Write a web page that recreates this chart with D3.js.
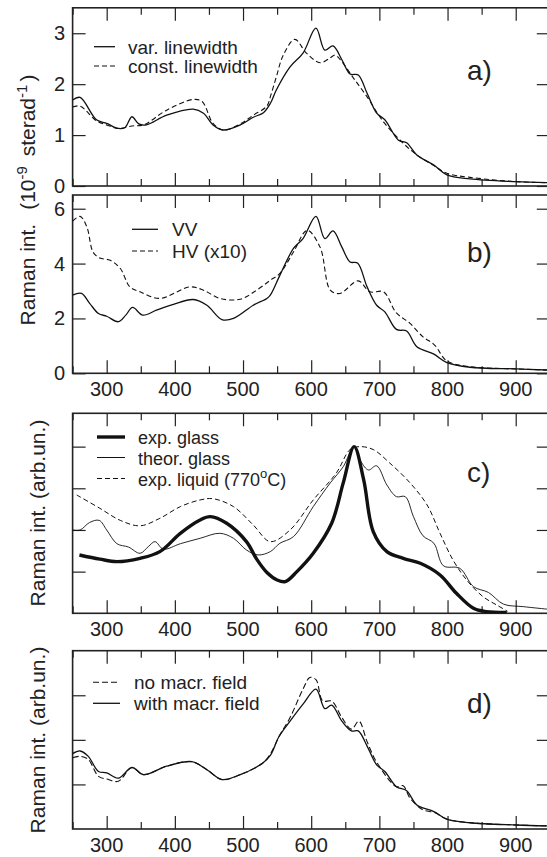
<!DOCTYPE html>
<html>
<head>
<meta charset="utf-8">
<script src="https://d3js.org/d3.v7.min.js"></script>
<style>
  body { margin: 0; background: #fff; }
  text { font-family: "Liberation Sans", Arial, Helvetica, sans-serif; fill: #222; }
</style>
</head>
<body>
<svg id="chart" width="547" height="857"></svg>
<script>

// ---- data (x = wavenumber cm^-1) ----

// panel a)
var aVarX = [250, 261, 285, 300, 317, 327, 337, 347, 358, 388, 427, 442, 456, 471, 496, 515, 530, 540, 549, 569, 588, 607, 620, 632, 645, 657, 669, 682, 696, 708, 728, 740, 755, 780, 799, 833, 901, 946];
var aVarY = [1.69, 1.74, 1.30, 1.23, 1.13, 1.15, 1.36, 1.22, 1.20, 1.39, 1.51, 1.43, 1.20, 1.10, 1.20, 1.35, 1.44, 1.62, 1.89, 2.34, 2.61, 3.10, 2.67, 2.75, 2.48, 2.20, 2.18, 1.82, 1.43, 1.30, 0.90, 0.85, 0.61, 0.41, 0.22, 0.14, 0.085, 0.065];
var aConstX = [250, 261, 285, 300, 317, 337, 354, 388, 427, 440, 456, 471, 496, 515, 535, 540, 549, 559, 576, 593, 613, 628, 635, 645, 662, 682, 706, 735, 755, 780, 799, 833, 901, 946];
var aConstY = [1.55, 1.57, 1.28, 1.20, 1.13, 1.18, 1.20, 1.49, 1.70, 1.66, 1.23, 1.10, 1.22, 1.39, 1.57, 1.75, 2.15, 2.57, 2.88, 2.61, 2.42, 2.52, 2.57, 2.44, 2.12, 1.75, 1.26, 0.84, 0.61, 0.40, 0.25, 0.17, 0.085, 0.065];

// panel b)
var bVVX = [250, 263, 275, 288, 300, 317, 328, 338, 353, 373, 398, 427, 447, 469, 486, 515, 535, 540, 554, 574, 588, 607, 620, 632, 645, 657, 668, 682, 696, 708, 725, 740, 755, 780, 799, 833, 901, 946];
var bVVY = [2.85, 2.91, 2.55, 2.18, 2.08, 1.88, 2.12, 2.40, 2.12, 2.30, 2.51, 2.69, 2.48, 1.96, 2.00, 2.48, 2.73, 2.85, 3.57, 4.55, 4.91, 5.72, 4.91, 5.19, 4.60, 4.06, 4.02, 3.15, 2.48, 2.24, 1.60, 1.54, 0.97, 0.70, 0.39, 0.22, 0.16, 0.12];
var bHVX = [250, 261, 271, 280, 290, 305, 320, 334, 349, 378, 422, 442, 466, 496, 520, 540, 554, 574, 594, 613, 628, 642, 669, 686, 706, 725, 745, 764, 781, 799, 833, 901, 946];
var bHVY = [5.55, 5.72, 5.33, 4.42, 4.20, 4.12, 3.82, 3.15, 2.97, 2.73, 3.15, 3.03, 2.73, 2.70, 3.03, 3.39, 3.64, 4.42, 5.21, 4.60, 3.03, 2.91, 3.37, 2.97, 2.97, 2.20, 1.82, 1.33, 1.03, 0.45, 0.24, 0.16, 0.12];

// panel c)
var cExpX = [260, 290, 315, 349, 378, 408, 437, 452, 476, 505, 520, 535, 550, 562, 579, 603, 630, 647, 663, 677, 691, 711, 735, 760, 789, 813, 838, 857, 887];
var cExpY = [1.40, 1.30, 1.24, 1.32, 1.48, 1.92, 2.24, 2.32, 2.16, 1.72, 1.30, 0.98, 0.80, 0.76, 1.00, 1.44, 2.16, 3.13, 4.00, 3.20, 1.96, 1.48, 1.32, 1.20, 0.92, 0.48, 0.12, 0.04, 0.02];
var cTheorX = [250, 261, 275, 289, 300, 315, 332, 349, 361, 371, 383, 408, 437, 466, 486, 505, 522, 540, 554, 574, 603, 628, 647, 663, 673, 684, 696, 711, 725, 738, 750, 764, 780, 794, 818, 838, 860, 882, 911, 946];
var cTheorY = [2.00, 2.00, 2.18, 2.23, 2.00, 1.67, 1.59, 1.44, 1.60, 1.72, 1.54, 1.67, 1.80, 1.92, 1.80, 1.52, 1.40, 1.48, 1.68, 1.84, 2.56, 3.13, 3.52, 4.00, 3.64, 3.44, 3.54, 3.08, 2.80, 2.80, 2.32, 1.86, 1.68, 1.14, 1.08, 0.64, 0.50, 0.22, 0.16, 0.10];
var cLiqX = [256, 290, 320, 349, 378, 408, 437, 456, 486, 515, 540, 569, 603, 637, 657, 671, 691, 715, 745, 770, 789, 808, 828, 852, 872, 888];
var cLiqY = [2.84, 2.52, 2.23, 2.10, 2.28, 2.56, 2.72, 2.75, 2.56, 2.12, 1.72, 2.00, 2.72, 3.37, 3.93, 4.00, 3.93, 3.61, 3.13, 2.60, 1.92, 1.28, 0.80, 0.40, 0.20, 0.05];

// panel d)
var dWithX = [250, 261, 273, 288, 300, 317, 337, 354, 388, 425, 447, 469, 496, 529, 540, 553, 569, 588, 607, 620, 630, 645, 659, 669, 682, 696, 708, 725, 740, 755, 780, 799, 833, 901, 946];
var dWithY = [1.69, 1.75, 1.63, 1.29, 1.26, 1.14, 1.38, 1.22, 1.41, 1.51, 1.33, 1.11, 1.22, 1.48, 1.65, 2.08, 2.42, 2.80, 3.14, 2.70, 2.78, 2.42, 2.20, 2.20, 1.86, 1.44, 1.29, 0.95, 0.86, 0.54, 0.39, 0.22, 0.14, 0.09, 0.07];
var dNoX = [250, 261, 273, 288, 300, 317, 337, 354, 388, 425, 447, 469, 496, 529, 540, 553, 569, 588, 598, 607, 617, 630, 645, 659, 670, 682, 696, 725, 735, 745, 764, 781, 799, 833, 901, 946];
var dNoY = [1.60, 1.63, 1.56, 1.18, 1.12, 1.07, 1.38, 1.22, 1.41, 1.51, 1.33, 1.11, 1.22, 1.48, 1.68, 2.08, 2.50, 3.14, 3.40, 3.35, 2.87, 2.87, 2.50, 2.24, 2.42, 1.96, 1.50, 0.95, 0.97, 0.69, 0.43, 0.37, 0.22, 0.14, 0.09, 0.07];

// tick values
var xMajorTicks = [300, 400, 500, 600, 700, 800, 900];
var xMinorTicks = [250, 350, 450, 550, 650, 750, 850, 950];
var aYTicks = [0, 1, 2, 3];
var bYTicks = [0, 2, 4, 6];
var cYTicks = [1, 2, 3, 4];
var dYTicks = [1, 2, 3];

var svg = d3.select('#chart');

// shared x scale
var xScale = d3.scaleLinear().domain([250, 950]).range([72.6, 549.8]);

function zip(xs, ys) {
    return xs.map(function(x, i) { return [x, ys[i]]; });
}

// draws a framed panel and returns its y scale
function makePanel(id, top, bottom, yMax, yTicks, showYLabels, showXLabels) {
    var yScale = d3.scaleLinear().domain([0, yMax]).range([bottom, top]);
    var g = svg.append('g').attr('id', id);

    g.append('clipPath').attr('id', 'clip-' + id)
        .append('rect')
        .attr('x', xScale(250)).attr('y', top)
        .attr('width', xScale(950) - xScale(250)).attr('height', bottom - top);

    // inward ticks, top + bottom
    g.append('g').attr('transform', 'translate(0,' + bottom + ')')
        .call(d3.axisBottom(xScale).tickValues(xMajorTicks).tickSize(-13).tickFormat(''));
    g.append('g').attr('transform', 'translate(0,' + bottom + ')')
        .call(d3.axisBottom(xScale).tickValues(xMinorTicks).tickSize(-7).tickFormat(''));
    g.append('g').attr('transform', 'translate(0,' + top + ')')
        .call(d3.axisTop(xScale).tickValues(xMajorTicks).tickSize(-13).tickFormat(''));
    g.append('g').attr('transform', 'translate(0,' + top + ')')
        .call(d3.axisTop(xScale).tickValues(xMinorTicks).tickSize(-7).tickFormat(''));

    // y ticks left and right
    g.append('g').attr('transform', 'translate(' + xScale(250) + ',0)')
        .call(d3.axisLeft(yScale).tickValues(yTicks).tickSize(-13).tickFormat(''));
    g.append('g').attr('transform', 'translate(' + xScale(950) + ',0)')
        .call(d3.axisRight(yScale).tickValues(yTicks).tickSize(-13).tickFormat(''));

    g.selectAll('.domain').remove();
    g.selectAll('.tick line').attr('stroke', '#222').attr('stroke-width', 1.2);

    if (showYLabels) {
        g.selectAll('.ylab')
            .data(yTicks)
            .enter()
            .append('text')
            .attr('x', 65)
            .attr('y', function(d) { return yScale(d) + 7; })
            .attr('text-anchor', 'end')
            .style('font-size', '20px')
            .text(function(d) { return d; });
    }
    if (showXLabels) {
        g.selectAll('.xlab')
            .data(xMajorTicks)
            .enter()
            .append('text')
            .attr('x', function(d) { return xScale(d); })
            .attr('y', bottom + 23)
            .attr('text-anchor', 'middle')
            .style('font-size', '20px')
            .text(function(d) { return d; });
    }

    g.append('rect')
        .attr('x', xScale(250)).attr('y', top)
        .attr('width', xScale(950) - xScale(250)).attr('height', bottom - top)
        .attr('fill', 'none').attr('stroke', '#222').attr('stroke-width', 1.6);

    return { g: g, y: yScale, id: id };
}

function drawLine(panel, xs, ys, width, dash) {
    var line = d3.line()
        .x(function(d) { return xScale(d[0]); })
        .y(function(d) { return panel.y(d[1]); })
        .curve(d3.curveCatmullRom.alpha(0.5));
    panel.g.append('path')
        .datum(zip(xs, ys))
        .attr('clip-path', 'url(#clip-' + panel.id + ')')
        .attr('d', line)
        .attr('fill', 'none')
        .attr('stroke', '#111')
        .attr('stroke-width', width)
        .attr('stroke-dasharray', dash || null)
        .attr('stroke-linejoin', 'round');
}

function legendRow(panel, x1, x2, tx, y, width, dash, label, size) {
    panel.g.append('line')
        .attr('x1', x1).attr('x2', x2).attr('y1', y).attr('y2', y)
        .attr('stroke', '#111').attr('stroke-width', width)
        .attr('stroke-dasharray', dash || null);
    return panel.g.append('text')
        .attr('x', tx).attr('y', y + 7)
        .style('font-size', (size || 19) + 'px')
        .text(label);
}

function panelTag(panel, y, label) {
    panel.g.append('text')
        .attr('x', 467).attr('y', y)
        .style('font-size', '28px')
        .text(label);
}

// ---- panels ----
var pa = makePanel('pa', 7.8, 186, 3.5, aYTicks, true, false);
drawLine(pa, aConstX, aConstY, 1.1, '5,3');
drawLine(pa, aVarX, aVarY, 1.3);
legendRow(pa, 94, 115, 128, 46.7, 1.3, null, 'var. linewidth');
legendRow(pa, 94, 115, 128, 66, 1.1, '5,3', 'const. linewidth');
panelTag(pa, 80, 'a)');

var pb = makePanel('pb', 195, 373.3, 6.5, bYTicks, true, true);
drawLine(pb, bHVX, bHVY, 1.1, '5,3');
drawLine(pb, bVVX, bVVY, 1.3);
legendRow(pb, 132, 158, 172, 229.3, 1.3, null, 'VV');
legendRow(pb, 132, 158, 172, 251, 1.1, '5,3', 'HV (x10)');
panelTag(pb, 262, 'b)');

var pc = makePanel('pc', 413.3, 613.3, 4.8, cYTicks, false, true);
drawLine(pc, cLiqX, cLiqY, 1.0, '5,3');
drawLine(pc, cTheorX, cTheorY, 0.9);
drawLine(pc, cExpX, cExpY, 3.4);
legendRow(pc, 97, 125, 138, 437, 3.4, null, 'exp. glass', 18);
legendRow(pc, 97, 125, 138, 457.5, 1.0, null, 'theor. glass', 18);
var liqText = legendRow(pc, 97, 125, 138, 478.5, 1.0, '5,3', 'exp. liquid (770', 18);
liqText.append('tspan').attr('dy', -8).style('font-size', '13px').text('o');
liqText.append('tspan').attr('dy', 8).text('C)');
panelTag(pc, 482, 'c)');

var pd = makePanel('pd', 650.7, 829, 4, dYTicks, false, true);
drawLine(pd, dNoX, dNoY, 1.1, '6,3');
drawLine(pd, dWithX, dWithY, 1.3);
legendRow(pd, 93, 120, 134, 682.3, 1.1, '6,3', 'no macr. field');
legendRow(pd, 93, 120, 134, 703.3, 1.3, null, 'with macr. field');
panelTag(pd, 713, 'd)');

// ---- y axis titles ----
var yt1 = svg.append('text')
    .attr('transform', 'translate(35,200) rotate(-90)')
    .attr('text-anchor', 'middle')
    .style('font-size', '21px');
yt1.append('tspan').text('Raman int.');
yt1.append('tspan').attr('dx', 14).text('(10');
yt1.append('tspan').attr('dy', -8).style('font-size', '15px').text('-9');
yt1.append('tspan').attr('dy', 8).attr('dx', 4).text(' sterad');
yt1.append('tspan').attr('dy', -8).style('font-size', '15px').text('-1');
yt1.append('tspan').attr('dy', 8).attr('dx', 3).text(')');

svg.append('text')
    .attr('transform', 'translate(45,513) rotate(-90)')
    .attr('text-anchor', 'middle')
    .style('font-size', '21px')
    .text('Raman int. (arb.un.)');

svg.append('text')
    .attr('transform', 'translate(45,740) rotate(-90)')
    .attr('text-anchor', 'middle')
    .style('font-size', '21px')
    .text('Raman int. (arb.un.)');

</script>
</body>
</html>
